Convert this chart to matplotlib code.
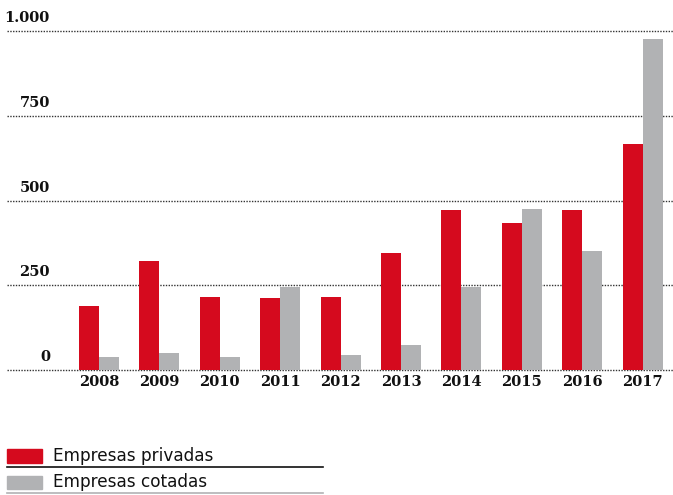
import matplotlib
matplotlib.use("Agg")
import matplotlib.pyplot as plt
from matplotlib.patches import Rectangle
from matplotlib.lines import Line2D
import numpy as np

years = ["2008", "2009", "2010", "2011", "2012", "2013", "2014", "2015", "2016", "2017"]
privadas = [189, 322, 215, 212, 215, 345, 472, 434, 472, 667]
cotadas = [38, 50, 38, 245, 44, 74, 245, 475, 351, 977]
yticks = [0, 250, 500, 750, 1000]
ytick_labels = ["0", "250", "500", "750", "1.000"]
legend_labels = ["Empresas privadas", "Empresas cotadas"]

RED = "#D50A1E"
GRAY = "#B1B2B4"
W, H = 673, 495

fig = plt.figure(figsize=(W / 100, H / 100), dpi=100)
ax = fig.add_axes([7 / W, 1 - 370 / H, 1 - 7 / W, (370 - 31) / H])

x = np.arange(len(years))
bw = 0.331
ax.bar(x - bw / 2, privadas, width=bw, color=RED, zorder=3)
ax.bar(x + bw / 2, cotadas, width=bw, color=GRAY, zorder=3)

ax.set_xlim(-1.523, 9.503)
ax.set_ylim(0, 1000)
for s in ax.spines.values():
    s.set_visible(False)
ax.set_xticks([])
ax.set_yticks([])

for v, lab in zip(yticks, ytick_labels):
    ax.axhline(v, color="#333333", lw=1.0, linestyle=(0, (1, 1)), zorder=1, clip_on=False)
    ax.annotate(lab, xy=(0, v), xycoords=("axes fraction", "data"),
                xytext=(43, 13), textcoords="offset pixels",
                ha="right", va="center", fontsize=10.5, fontweight="bold",
                family="DejaVu Serif", color="#111111")

for xi, yr in zip(x, years):
    ax.annotate(yr, xy=(xi, 0), xycoords="data", xytext=(0, -12),
                textcoords="offset pixels", ha="center", va="center",
                fontsize=10.5, fontweight="bold", family="DejaVu Serif",
                color="#111111")

# legend
def fy(p):
    return 1 - p / H

fig.patches.append(Rectangle((7 / W, fy(463)), 35 / W, 14 / H, transform=fig.transFigure,
                             color=RED, figure=fig))
fig.patches.append(Rectangle((7 / W, fy(489)), 35 / W, 13 / H, transform=fig.transFigure,
                             color=GRAY, figure=fig))
fig.lines.append(Line2D([7 / W, 323 / W], [fy(467), fy(467)], transform=fig.transFigure,
                        color="#111111", lw=1.2, figure=fig))
fig.lines.append(Line2D([7 / W, 323 / W], [fy(493), fy(493)], transform=fig.transFigure,
                        color=GRAY, lw=1.2, figure=fig))
fig.text(53 / W, fy(456), legend_labels[0], ha="left", va="center", fontsize=12.2,
         family="DejaVu Sans", color="#111111")
fig.text(53 / W, fy(482), legend_labels[1], ha="left", va="center", fontsize=12.2,
         family="DejaVu Sans", color="#111111")

fig.savefig("out.png", dpi=100)
